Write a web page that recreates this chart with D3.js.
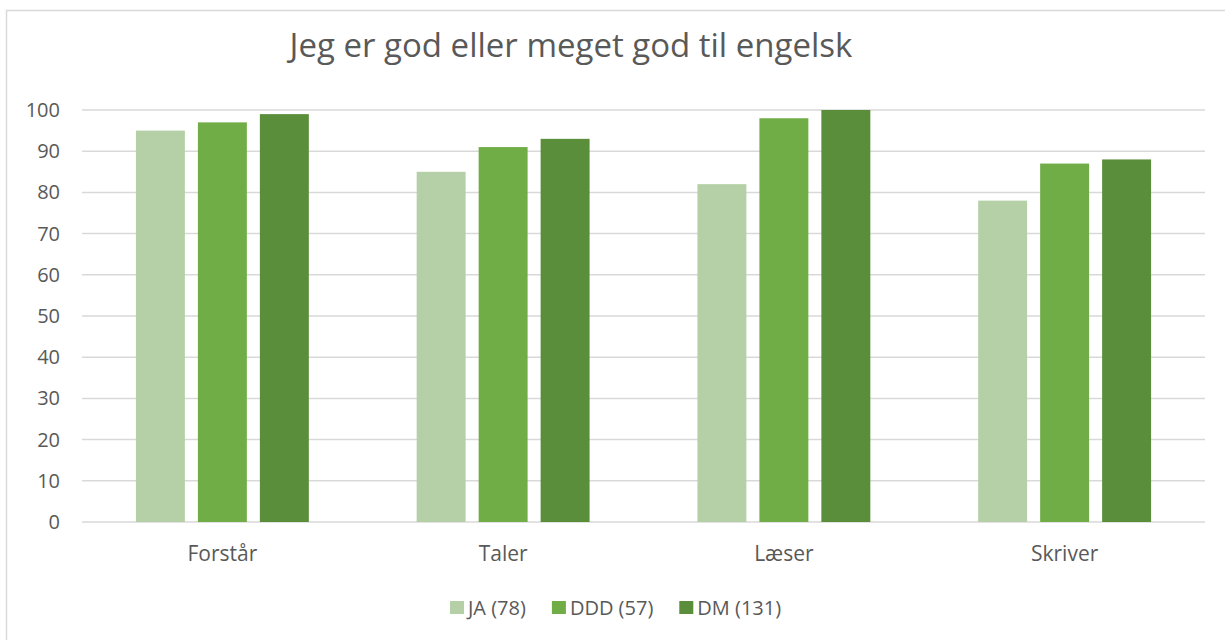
<!DOCTYPE html>
<html lang="da">
<head>
<meta charset="UTF-8">
<title>Jeg er god eller meget god til engelsk</title>
<script src="https://cdn.jsdelivr.net/npm/d3@7"></script>
<style>
  body { margin: 0; background: #fff; }
  text { font-family: "Open Sans", "Noto Sans", sans-serif; fill: #595959; }
</style>
</head>
<body>
<script>
// data
var kategorier = ["Forstår", "Taler", "Læser", "Skriver"];
var serier = ["JA (78)", "DDD (57)", "DM (131)"];
var ja  = [95, 85, 82, 78];
var ddd = [97, 91, 98, 87];
var dm  = [99, 93, 100, 88];
var yTicks = [0, 10, 20, 30, 40, 50, 60, 70, 80, 90, 100];
var farver = ["#B5D0A7", "#70AD47", "#5A8E3A"];

var ancho = 1225, alto = 640;
var venstre = 82, hojre = 1205, ovre = 110, bund = 522;

var svg = d3.select("body").append("svg")
    .attr("width", ancho).attr("height", alto);

// ramme
svg.append("rect")
    .attr("x", 6.5).attr("y", 10.5)
    .attr("width", 1240).attr("height", 660)
    .attr("fill", "none").attr("stroke", "#d9d9d9").attr("stroke-width", 1.5);

// titel
svg.append("text")
    .attr("x", 571).attr("y", 57)
    .attr("text-anchor", "middle")
    .attr("font-size", 33)
    .text("Jeg er god eller meget god til engelsk");

var x = d3.scaleBand().domain(kategorier).range([venstre, hojre]);
var xs = d3.scaleBand().domain(serier).range([0, x.bandwidth()])
    .paddingInner(0.21).paddingOuter(0.87);
var y = d3.scaleLinear().domain([0, 100]).range([bund, ovre]);
var farve = d3.scaleOrdinal().domain(serier).range(farver);

// gitter
svg.append("g").selectAll("line").data(yTicks).join("line")
    .attr("x1", venstre).attr("x2", hojre)
    .attr("y1", function(d){ return y(d); }).attr("y2", function(d){ return y(d); })
    .attr("stroke", "#d9d9d9").attr("stroke-width", 1.5);

// y-akse
var yAkse = svg.append("g")
    .attr("transform", "translate(" + (venstre - 22) + ",0)")
    .call(d3.axisLeft(y).tickValues(yTicks).tickSize(0).tickPadding(0));
yAkse.select(".domain").remove();
yAkse.selectAll("text").attr("font-size", 20).attr("fill", "#595959")
    .style("font-family", "'Open Sans', sans-serif");

// søjler
var data = kategorier.map(function(k, i) {
  return { kat: k, vaerdier: [ja[i], ddd[i], dm[i]] };
});
var grupper = svg.append("g").selectAll("g").data(data).join("g")
    .attr("transform", function(d){ return "translate(" + x(d.kat) + ",0)"; });
grupper.selectAll("rect")
    .data(function(d){ return d.vaerdier.map(function(v, j){ return { s: serier[j], v: v }; }); })
    .join("rect")
    .attr("x", function(d){ return xs(d.s); })
    .attr("y", function(d){ return y(d.v); })
    .attr("width", xs.bandwidth())
    .attr("height", function(d){ return bund - y(d.v); })
    .attr("fill", function(d){ return farve(d.s); });

// x-akse
var xAkse = svg.append("g")
    .attr("transform", "translate(0," + bund + ")")
    .call(d3.axisBottom(x).tickSize(0).tickPadding(24));
xAkse.select(".domain").remove();
xAkse.selectAll("text").attr("font-size", 21).attr("fill", "#595959")
    .style("font-family", "'Open Sans', sans-serif");

// legende
var leg = svg.append("g");
var lx = 450;
serier.forEach(function(s) {
  var g = leg.append("g").attr("transform", "translate(" + lx + ",601)");
  g.append("rect").attr("x", 0).attr("y", 0).attr("width", 14).attr("height", 13)
      .attr("fill", farve(s));
  var t = g.append("text").attr("x", 18).attr("y", 14)
      .attr("font-size", 20).text(s);
  lx += 18 + t.node().getComputedTextLength() + 26;
});
</script>
</body>
</html>
